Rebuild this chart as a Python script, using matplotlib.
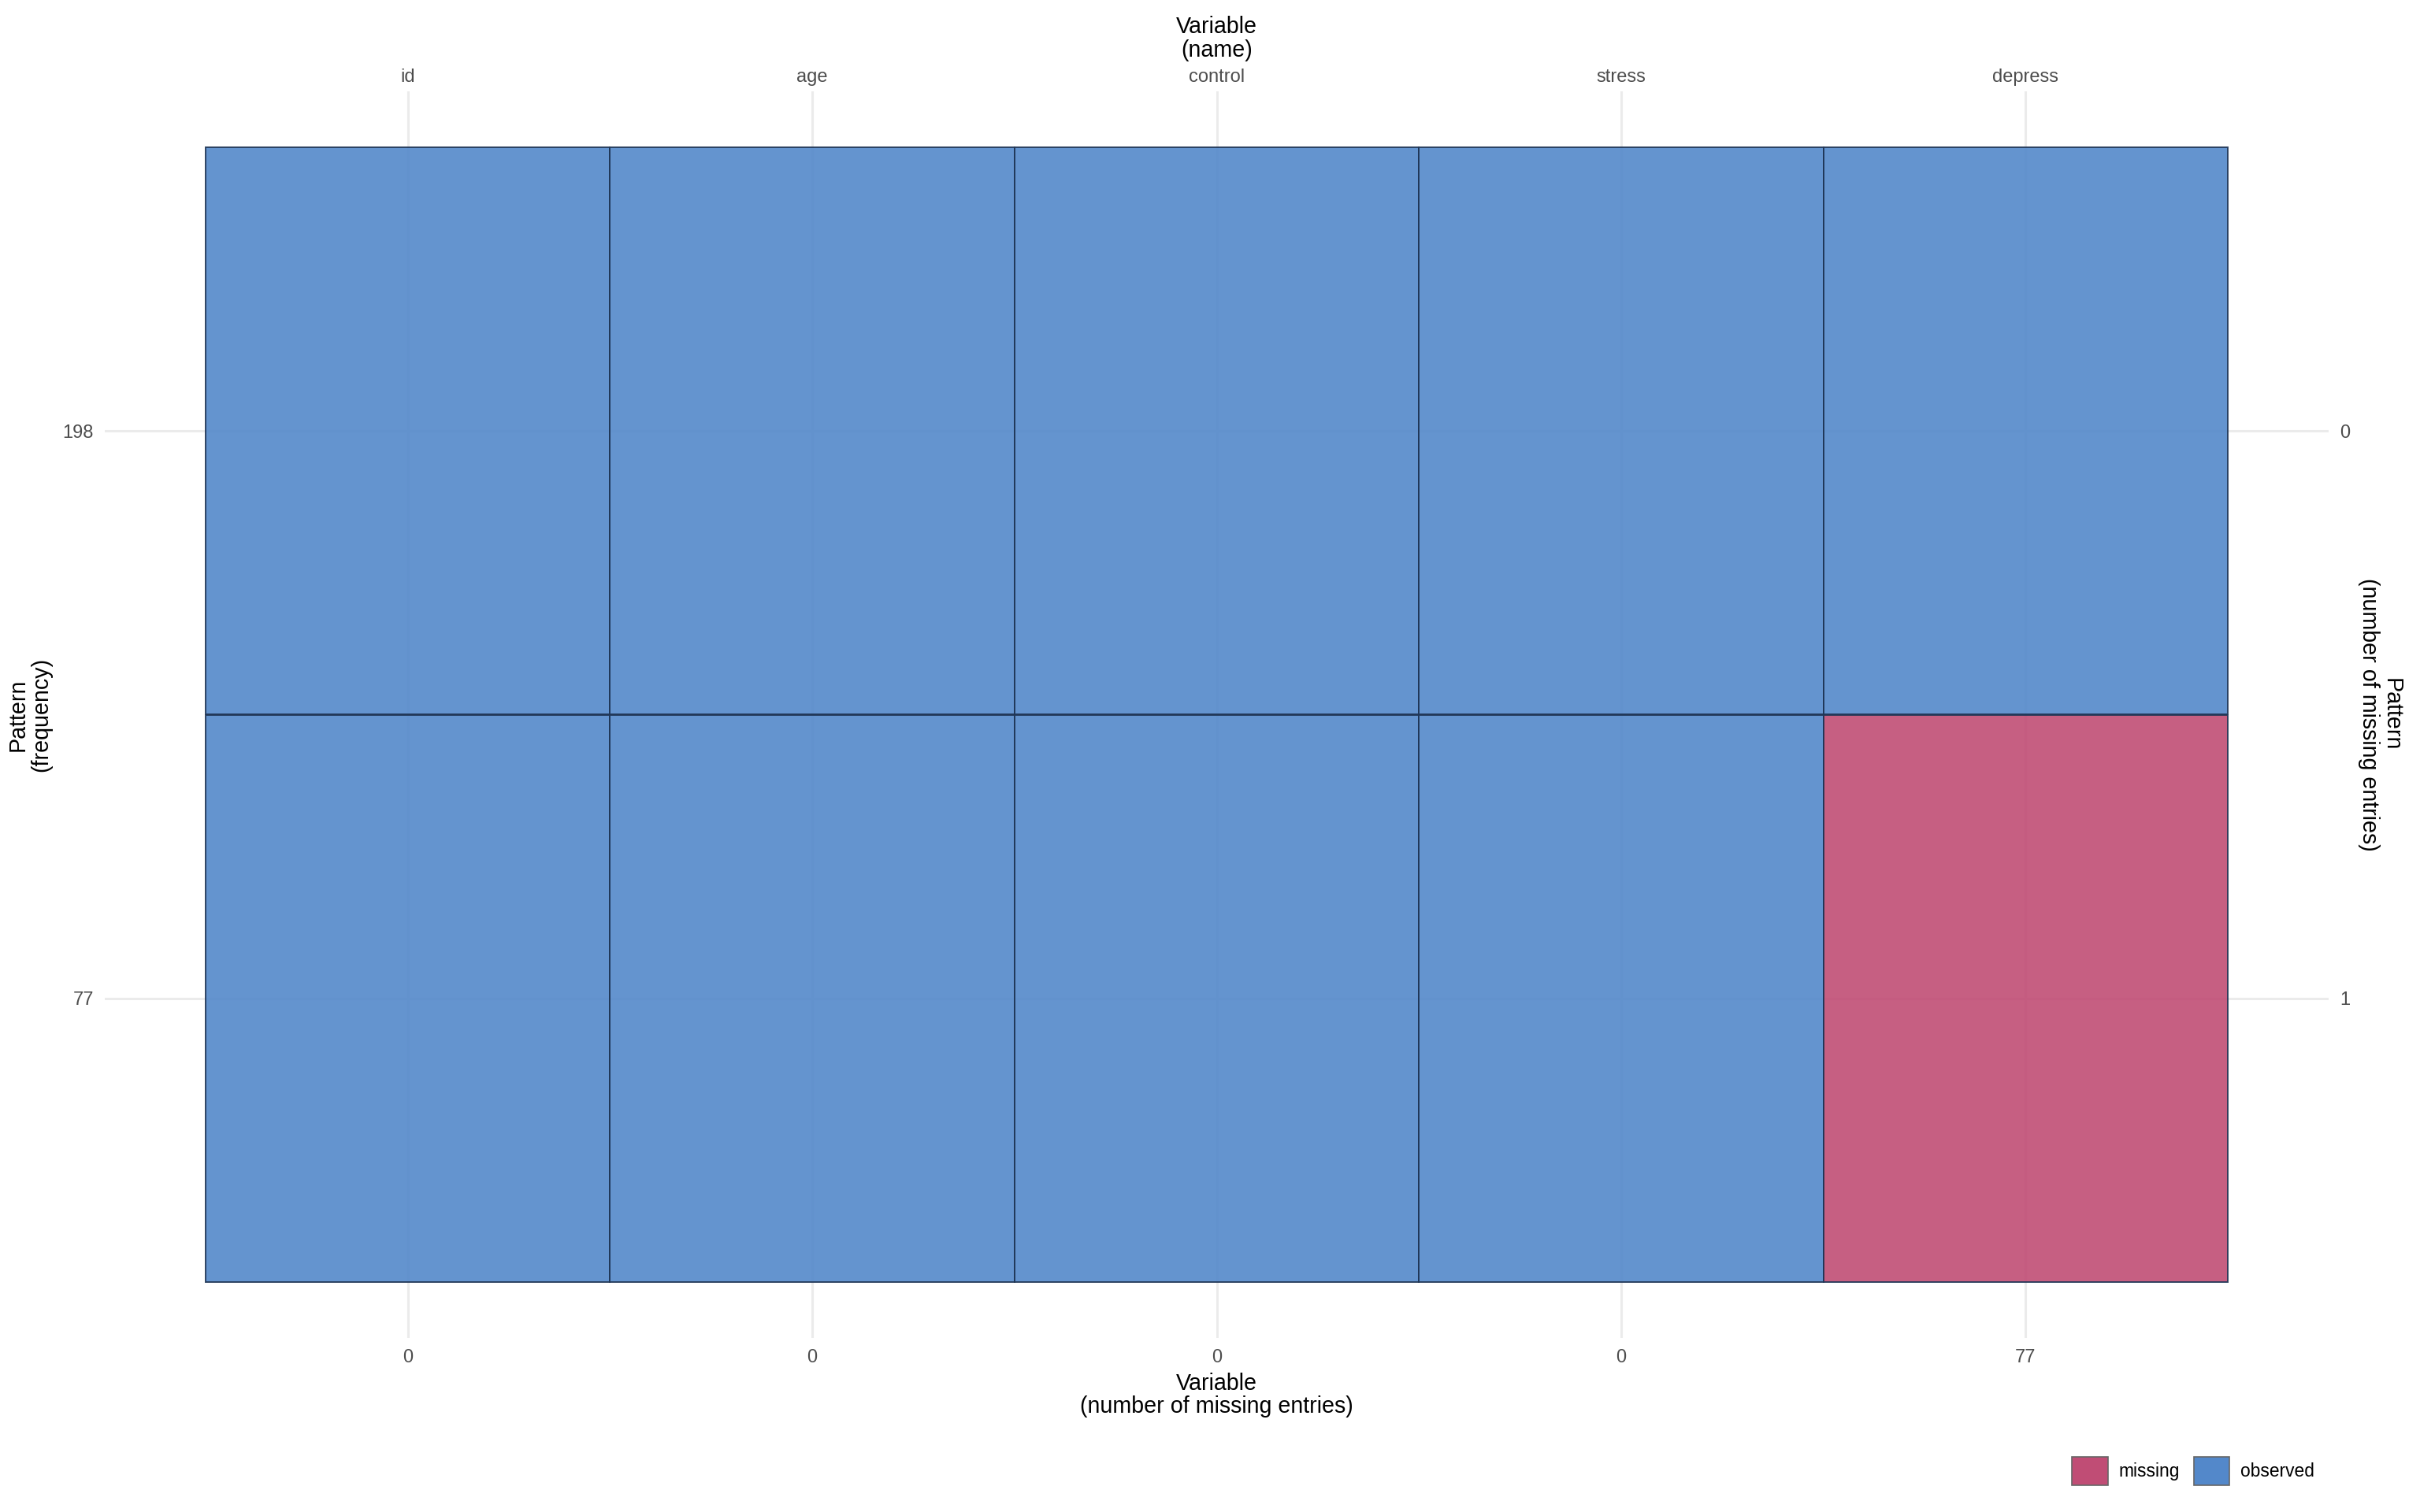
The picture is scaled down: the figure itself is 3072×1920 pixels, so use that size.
import matplotlib
matplotlib.use("Agg")
import matplotlib.pyplot as plt
from matplotlib.patches import Patch

# ---- data ----
variables = ["id", "age", "control", "stress", "depress"]
missing_per_variable = [0, 0, 0, 0, 77]
pattern_frequency = [198, 77]
pattern_missing = [0, 1]
# 1 = observed, 0 = missing
pattern_matrix = [
    [1, 1, 1, 1, 1],
    [1, 1, 1, 1, 0],
]

col_observed = "#5388CA"
col_missing = "#C04D75"
edge_col = "#1F3555"

plt.rcParams["font.family"] = ["Liberation Sans", "DejaVu Sans"]

fig = plt.figure(figsize=(15.36, 9.6), dpi=200)
ax = fig.add_axes([133 / 3072, 1 - 1699 / 1920, (2956 - 133) / 3072, (1699 - 116) / 1920])

xs = list(range(len(variables)))
for r, row in enumerate(pattern_matrix):
    colors = [col_observed if v == 1 else col_missing for v in row]
    ax.bar(xs, [1] * len(xs), bottom=r - 0.5, width=1.0, color=colors,
           alpha=0.9, edgecolor=edge_col, linewidth=0.7, zorder=2)

ax.set_xlim(-0.5 - 0.249, len(variables) - 0.5 + 0.249)
ax.set_ylim(len(pattern_matrix) - 0.5 + 0.0985, -0.5 - 0.0985)

grid_kw = dict(color="#EBEBEB", linewidth=1.1)
ax.set_axisbelow(True)
ax.grid(True, **grid_kw, zorder=0)

for s in ax.spines.values():
    s.set_visible(False)

tick_fs = 8.5
title_fs = 10.3
tick_col = "#4D4D4D"

ax.set_xticks(xs, [str(v) for v in missing_per_variable])
ax.set_yticks(range(len(pattern_frequency)), [str(v) for v in pattern_frequency])
ax.tick_params(length=0, pad=5, labelsize=tick_fs, labelcolor=tick_col)
ax.set_xlabel("Variable\n(number of missing entries)", fontsize=title_fs, labelpad=3,
              linespacing=1.05)
ax.set_ylabel("Pattern\n(frequency)", fontsize=title_fs, labelpad=5, linespacing=1.05)

top = ax.secondary_xaxis("top")
top.set_xticks(xs, variables)
top.tick_params(length=0, pad=2.5, labelsize=tick_fs, labelcolor=tick_col)
top.set_xlabel("Variable\n(name)", fontsize=title_fs, labelpad=5.4, linespacing=1.08)
for s in top.spines.values():
    s.set_visible(False)

right = ax.secondary_yaxis("right")
right.set_yticks(range(len(pattern_missing)), [str(v) for v in pattern_missing])
right.tick_params(length=0, pad=5, labelsize=tick_fs, labelcolor=tick_col)
right.set_ylabel("Pattern\n(number of missing entries)", fontsize=title_fs,
                 rotation=270, labelpad=24, linespacing=1.05)
for s in right.spines.values():
    s.set_visible(False)

handles = [
    Patch(facecolor=col_missing, edgecolor="#666666", linewidth=0.6, label="missing"),
    Patch(facecolor=col_observed, edgecolor="#666666", linewidth=0.6, label="observed"),
]
fig.legend(handles=handles, loc="center left",
           bbox_to_anchor=(2630 / 3072, 1 - 1868 / 1920), ncol=2, frameon=False,
           fontsize=8.2, handlelength=2.0, handleheight=2.0, handletextpad=0.6,
           columnspacing=0.8, borderpad=0, borderaxespad=0)

fig.savefig("out.png", dpi=200, facecolor="white")
